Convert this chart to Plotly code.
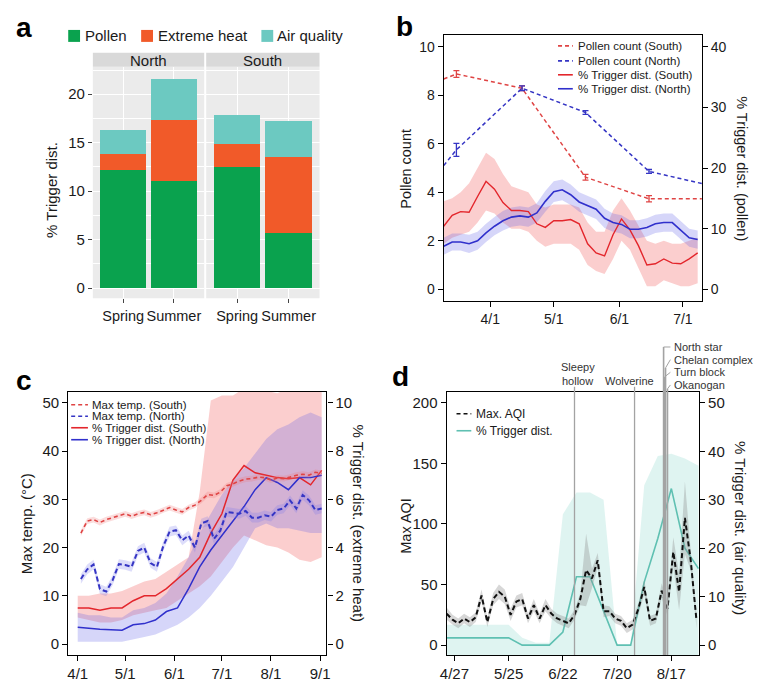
import plotly.graph_objects as go
import pandas as pd

W, H = 760, 674
OFF = 8  # the page body margin shifts the figure by 8 px
FONT = "Liberation Sans, Arial, Helvetica, sans-serif"


def px(x):
    return (x - OFF) / W


def py(y):
    return 1 - (y - OFF) / H


# ---------------- Panel a data ----------------
seasons = ["Spring", "Summer"]
north_pollen = [12.2, 11.1]
north_heat = [1.6, 6.2]
north_air = [2.5, 4.3]
south_pollen = [12.5, 5.7]
south_heat = [2.4, 7.8]
south_air = [3.0, 3.7]
a_legend = ["Pollen", "Extreme heat", "Air quality"]
a_ticks = [0, 5, 10, 15, 20]

# ---------------- Panel b data ----------------
b_dates = pd.date_range("2015-03-10", periods=31, freq="4D")
b_south_trig = [10.4, 12.2, 12.8, 12.7, 15.3, 17.8, 16.5, 14.3, 13.0, 13.0, 12.8, 10.8, 10.2, 11.3, 11.3,
                11.5, 10.8, 7.5, 6.0, 5.5, 9.0, 11.6, 9.8, 7.2, 4.0, 4.2, 5.0, 4.3, 4.2, 5.0, 6.0]
b_south_lo = [7.5, 8.5, 9, 9.5, 11, 13, 12.5, 11, 10, 10, 9.5, 8, 7, 7.5, 7.5,
              7.5, 6.5, 4, 3, 2.5, 5, 8, 6.5, 3.5, 0.5, 0.5, 1.5, 1, 0.5, 0.5, 1]
b_south_hi = [14.5, 15, 16, 17.5, 20, 22.5, 21.5, 19, 17, 16.5, 16, 14, 13.5, 14, 14,
              14, 13.5, 11, 9.5, 9.5, 13, 15, 13, 10.5, 8, 7.5, 8, 7.5, 7.5, 8, 8.5]
b_north_trig = [7.1, 7.8, 7.8, 7.5, 8.0, 9.3, 10.4, 11.3, 11.9, 12.1, 11.9, 12.6, 14.5, 16.1, 16.4,
                15.6, 14.4, 13.8, 13.2, 11.7, 11.0, 10.7, 9.9, 9.9, 10.2, 10.8, 11.0, 11.0, 9.8, 8.5, 8.2]
b_north_err = [1.4, 1.4, 1.4, 1.5, 1.5, 1.5, 1.5, 1.6, 1.6, 1.6, 1.6, 1.6, 1.7, 1.7, 1.7,
               1.7, 1.6, 1.6, 1.6, 1.6, 1.5, 1.5, 1.5, 1.5, 1.5, 1.5, 1.5, 1.5, 1.5, 1.5, 1.5]
pollen_dates = ["2015-03-10", "2015-03-16", "2015-04-16", "2015-05-16", "2015-06-15", "2015-07-10"]
pollen_south = [8.67, 8.88, 8.29, 4.62, 3.73, 3.73]
pollen_north = [5.1, 5.75, 8.29, 7.29, 4.86, 4.36]
pollen_obs_dates = ["2015-03-16", "2015-04-16", "2015-05-16", "2015-06-15"]
pollen_south_obs = [8.88, 8.29, 4.62, 3.73]
pollen_south_err = [0.14, 0.1, 0.12, 0.13]
pollen_north_obs = [5.75, 8.29, 7.29, 4.86]
pollen_north_err = [0.27, 0.1, 0.08, 0.08]
b_tickvals = ["2015-04-01", "2015-05-01", "2015-06-01", "2015-07-01"]
b_ticktext = ["4/1", "5/1", "6/1", "7/1"]
b_legend = ["Pollen count (South)", "Pollen count (North)", "% Trigger dist. (South)", "% Trigger dist. (North)"]

# ---------------- Panel c data ----------------
c_temp_dates = pd.date_range("2015-04-03", periods=39, freq="4D")
temp_south = [23, 25.5, 25.8, 25.2, 25.8, 26.2, 26.6, 27.0, 26.5, 27.0, 27.3, 26.8, 27.2, 27.8, 28.3,
              27.8, 27.4, 28.3, 28.8, 29.8, 31.0, 30.8, 31.5, 32.8, 33.2, 33.8, 34.2, 34.3, 34.6, 34.5,
              34.0, 34.4, 34.3, 34.6, 35.0, 35.2, 35.0, 35.6, 35.4]
temp_north = [13.5, 15.5, 16.5, 11.4, 10.9, 13.2, 16.6, 16.4, 16.0, 19.3, 20.0, 16.8, 16.0, 20.3, 23.3,
              23.6, 21.5, 22.5, 20.0, 25.0, 25.5, 21.8, 23.5, 27.4, 27.2, 27.0, 27.6, 26.2, 26.2, 26.7,
              26.4, 27.8, 28.1, 29.8, 28.1, 30.9, 29.8, 27.8, 28.1]
temp_south_halfwidth = 0.6
temp_north_halfwidth = 1.0
c_trig_dates = pd.date_range("2015-04-01", periods=23, freq="7D")
c_south_trig = [1.5, 1.5, 1.4, 1.5, 1.5, 1.8, 2.0, 2.0, 2.3, 2.7, 3.1, 3.6, 4.6, 5.4, 6.8, 7.4, 7.1, 7.0,
                6.9, 6.85, 6.9, 6.6, 7.2]
c_north_trig = [0.7, 0.65, 0.62, 0.6, 0.58, 0.8, 0.85, 1.0, 1.35, 1.5, 2.3, 3.2, 3.9, 4.5, 5.1, 5.7, 6.4,
                6.9, 6.7, 6.4, 6.9, 6.9, 7.0]
c_south_lo = [1.1, 1.0, 0.9, 0.9, 1.0, 1.2, 1.3, 1.4, 1.5, 1.8, 2.1, 2.4, 2.8, 3.4, 4.0, 4.5, 4.3, 4.1,
              4.0, 3.8, 3.5, 3.4, 3.6]
c_south_hi = [2.0, 2.0, 2.1, 2.1, 2.2, 2.4, 2.6, 2.7, 3.0, 3.3, 3.6, 6.3, 10.1, 10.3, 10.3, 10.6, 10.8,
              10.5, 10.4, 10.6, 10.8, 11.0, 11.0]
c_north_lo = [0.1, 0.1, 0.1, 0.1, 0.1, 0.2, 0.3, 0.4, 0.6, 0.8, 1.1, 1.5, 2.0, 2.6, 3.2, 4.0, 4.8, 5.0,
              4.8, 4.8, 4.7, 4.6, 4.6]
c_north_hi = [1.3, 1.2, 1.2, 1.1, 1.1, 1.4, 1.5, 1.7, 2.1, 2.8, 3.6, 4.6, 5.4, 6.2, 6.8, 7.3, 7.9, 8.5,
              8.9, 9.1, 9.4, 9.6, 9.4]
c_tickvals = ["2015-04-01", "2015-05-01", "2015-06-01", "2015-07-01", "2015-08-01", "2015-09-01"]
c_ticktext = ["4/1", "5/1", "6/1", "7/1", "8/1", "9/1"]
c_legend = ["Max temp. (South)", "Max temp. (North)", "% Trigger dist. (South)", "% Trigger dist. (North)"]

# ---------------- Panel d data ----------------
aqi_dates = pd.date_range("2015-04-23", periods=44, freq="3D")
aqi = [26, 21, 18, 22, 19, 23, 41, 19, 38, 44, 40, 25, 36, 38, 22, 33, 22, 33, 26, 22,
       20, 18, 25, 38, 62, 55, 70, 28, 28, 22, 20, 14, 17, 30, 48, 20, 22, 45, 30, 77,
       44, 105, 70, 20]
aqi_err = [5, 4, 4, 4, 4, 4, 5, 4, 5, 6, 6, 5, 5, 5, 4, 5, 4, 5, 4, 4,
           4, 4, 4, 5, 30, 8, 6, 5, 4, 4, 4, 4, 4, 5, 6, 4, 4, 6, 6, 12,
           15, 30, 8, 6]
d_trig_dates = pd.date_range("2015-04-20", periods=20, freq="7D")
d_trig = [1.5, 1.5, 1.5, 1.5, 1.5, 1.5, 0, 0, 0, 2.7, 14.1, 14.1, 7.0, 0, 0, 13.0, 22.0, 32.3, 20.0, 15.8]
d_trig_hi = [4.2, 4.2, 4.2, 4.2, 4.2, 4.2, 1.5, 0.5, 0.5, 27, 31.5, 31.5, 30, 0, 0, 33, 39, 39.5, 38.5, 37]
d_trig_lo = [-3, -3, -3, -3, -3, -3, -3, -3, -3, -3, -3, -3, -3, -3, -3, -3, -3, -3, -3, -3]
d_tickvals = ["2015-04-27", "2015-05-25", "2015-06-22", "2015-07-20", "2015-08-17"]
d_ticktext = ["4/27", "5/25", "6/22", "7/20", "8/17"]
d_legend = ["Max. AQI", "% Trigger dist."]
fire_names = ["Sleepy hollow", "Wolverine", "North star", "Chelan complex", "Turn block", "Okanogan"]
fire_dates = ["2015-06-28", "2015-07-29", "2015-08-13", "2015-08-14", "2015-08-13 12:00", "2015-08-15"]

# ---------------- colours ----------------
GREEN = "#0aa24e"
ORANGE = "#f15a29"
TEAL_A = "#6cc9c1"
RED = "#e3262c"
RED_D = "#df4444"
BLUE = "#3030cc"
BLUE_D = "#3535c4"
PINK_BAND = "rgba(240,80,80,0.28)"
BLUE_BAND = "rgba(90,90,230,0.25)"
TEAL = "#5fc0b2"
TEAL_BAND = "rgba(110,205,190,0.22)"
GRAY_BAND = "rgba(140,140,140,0.35)"
TXT = "#1a1a1a"


def band(dates, lo, hi):
    d = list(pd.to_datetime(dates))
    return d + d[::-1], list(hi) + list(lo)[::-1]


fig = go.Figure()

# ---- a: stacked bars
for xa, ya, vals in [("x", "y", (north_pollen, north_heat, north_air)),
                     ("x2", "y2", (south_pollen, south_heat, south_air))]:
    for v, c in zip(vals, (GREEN, ORANGE, TEAL_A)):
        fig.add_trace(go.Bar(x=seasons, y=v, width=0.9, marker=dict(color=c, line=dict(width=0)),
                             xaxis=xa, yaxis=ya, showlegend=False))

# ---- b
bx, by = band(b_dates, b_south_lo, b_south_hi)
fig.add_trace(go.Scatter(x=bx, y=by, fill="toself", fillcolor=PINK_BAND, line=dict(width=0),
                         mode="lines", xaxis="x3", yaxis="y3", showlegend=False, hoverinfo="skip"))
nlo = [v - e for v, e in zip(b_north_trig, b_north_err)]
nhi = [v + e for v, e in zip(b_north_trig, b_north_err)]
bx, by = band(b_dates, nlo, nhi)
fig.add_trace(go.Scatter(x=bx, y=by, fill="toself", fillcolor=BLUE_BAND, line=dict(width=0),
                         mode="lines", xaxis="x3", yaxis="y3", showlegend=False, hoverinfo="skip"))
fig.add_trace(go.Scatter(x=b_dates, y=b_south_trig, mode="lines", line=dict(color=RED, width=1.4),
                         xaxis="x3", yaxis="y3", showlegend=False))
fig.add_trace(go.Scatter(x=b_dates, y=b_north_trig, mode="lines", line=dict(color=BLUE, width=1.6),
                         xaxis="x3", yaxis="y3", showlegend=False))
fig.add_trace(go.Scatter(x=pollen_dates, y=pollen_south, mode="lines",
                         line=dict(color=RED_D, width=1.5, dash="4px,3px"),
                         xaxis="x3", yaxis="y4", showlegend=False))
fig.add_trace(go.Scatter(x=pollen_dates, y=pollen_north, mode="lines",
                         line=dict(color=BLUE_D, width=1.5, dash="4px,3px"),
                         xaxis="x3", yaxis="y4", showlegend=False))
fig.add_trace(go.Scatter(x=pollen_obs_dates, y=pollen_south_obs, mode="markers",
                         marker=dict(size=1, color=RED_D),
                         error_y=dict(type="data", array=pollen_south_err, width=3, thickness=1.3, color=RED_D),
                         xaxis="x3", yaxis="y4", showlegend=False))
fig.add_trace(go.Scatter(x=pollen_obs_dates, y=pollen_north_obs, mode="markers",
                         marker=dict(size=1, color=BLUE_D),
                         error_y=dict(type="data", array=pollen_north_err, width=3, thickness=1.3, color=BLUE_D),
                         xaxis="x3", yaxis="y4", showlegend=False))

# ---- c
bx, by = band(c_trig_dates, c_south_lo, c_south_hi)
fig.add_trace(go.Scatter(x=bx, y=by, fill="toself", fillcolor=PINK_BAND, line=dict(width=0),
                         mode="lines", xaxis="x5", yaxis="y5", showlegend=False, hoverinfo="skip"))
bx, by = band(c_trig_dates, c_north_lo, c_north_hi)
fig.add_trace(go.Scatter(x=bx, y=by, fill="toself", fillcolor=BLUE_BAND, line=dict(width=0),
                         mode="lines", xaxis="x5", yaxis="y5", showlegend=False, hoverinfo="skip"))
fig.add_trace(go.Scatter(x=c_trig_dates, y=c_south_trig, mode="lines", line=dict(color=RED, width=1.5),
                         xaxis="x5", yaxis="y5", showlegend=False))
fig.add_trace(go.Scatter(x=c_trig_dates, y=c_north_trig, mode="lines", line=dict(color=BLUE, width=1.5),
                         xaxis="x5", yaxis="y5", showlegend=False))
bx, by = band(c_temp_dates, [v - temp_south_halfwidth for v in temp_south],
              [v + temp_south_halfwidth for v in temp_south])
fig.add_trace(go.Scatter(x=bx, y=by, fill="toself", fillcolor="rgba(240,120,120,0.25)", line=dict(width=0),
                         mode="lines", xaxis="x5", yaxis="y6", showlegend=False, hoverinfo="skip"))
bx, by = band(c_temp_dates, [v - temp_north_halfwidth for v in temp_north],
              [v + temp_north_halfwidth for v in temp_north])
fig.add_trace(go.Scatter(x=bx, y=by, fill="toself", fillcolor="rgba(120,120,235,0.25)", line=dict(width=0),
                         mode="lines", xaxis="x5", yaxis="y6", showlegend=False, hoverinfo="skip"))
fig.add_trace(go.Scatter(x=c_temp_dates, y=temp_south, mode="lines",
                         line=dict(color=RED_D, width=1.6, dash="4px,3px"),
                         xaxis="x5", yaxis="y6", showlegend=False))
fig.add_trace(go.Scatter(x=c_temp_dates, y=temp_north, mode="lines",
                         line=dict(color=BLUE_D, width=2, dash="5px,3px"),
                         xaxis="x5", yaxis="y6", showlegend=False))

# ---- d
bx, by = band(d_trig_dates, d_trig_lo, d_trig_hi)
fig.add_trace(go.Scatter(x=bx, y=by, fill="toself", fillcolor=TEAL_BAND, line=dict(width=0),
                         mode="lines", xaxis="x7", yaxis="y7", showlegend=False, hoverinfo="skip"))
fig.add_trace(go.Scatter(x=d_trig_dates, y=d_trig, mode="lines", line=dict(color=TEAL, width=1.6),
                         xaxis="x7", yaxis="y7", showlegend=False))
bx, by = band(aqi_dates, [v - e for v, e in zip(aqi, aqi_err)], [v + e for v, e in zip(aqi, aqi_err)])
fig.add_trace(go.Scatter(x=bx, y=by, fill="toself", fillcolor=GRAY_BAND, line=dict(width=0),
                         mode="lines", xaxis="x7", yaxis="y8", showlegend=False, hoverinfo="skip"))
fig.add_trace(go.Scatter(x=aqi_dates, y=aqi, mode="lines",
                         line=dict(color="#111111", width=2, dash="5px,3px"),
                         xaxis="x7", yaxis="y8", showlegend=False))

# ---------------- axes ----------------
tf = dict(family=FONT, size=15, color=TXT)
tfa = dict(family=FONT, size=14.5, color=TXT)
tf14 = dict(family=FONT, size=14, color=TXT)
box = dict(showline=True, linecolor="black", linewidth=1.2, ticks="outside", ticklen=5,
           tickcolor="black", tickwidth=1.1, showgrid=False, zeroline=False)

a_unit = 9.725
a_range = [-(299 - 289) / a_unit, (289 - 67) / a_unit]
a_minor = dict(tickvals=[2.5, 7.5, 12.5, 17.5, 22.5], showgrid=True, gridcolor="white", gridwidth=0.5)
ax_a = dict(type="category", range=[-0.6, 1.6], showgrid=True, gridcolor="white", gridwidth=1,
            ticks="outside", ticklen=4, tickcolor="#444", tickfont=tfa, tickangle=0,
            showline=False, zeroline=False)

fig.update_layout(
    xaxis=dict(domain=[px(87), px(200)], anchor="y", **ax_a),
    yaxis=dict(domain=[py(299), py(67)], anchor="x", range=a_range, tickvals=a_ticks, showgrid=True,
               gridcolor="white", gridwidth=1.1, minor=a_minor, ticks="outside", ticklen=4,
               tickcolor="#444", tickfont=tf, zeroline=False, showline=False),
    xaxis2=dict(domain=[px(202), px(317)], anchor="y2", **ax_a),
    yaxis2=dict(domain=[py(299), py(67)], anchor="x2", range=a_range, tickvals=a_ticks, showgrid=True,
                gridcolor="white", gridwidth=1.1, minor=a_minor,
                showticklabels=False, ticks="", zeroline=False),
    xaxis3=dict(domain=[px(443), px(705)], anchor="y3", type="date", range=["2015-03-10", "2015-07-10"],
                tickvals=b_tickvals, ticktext=b_ticktext, tickfont=tf14, mirror=True, **box),
    yaxis3=dict(domain=[py(302), py(35)], anchor="x3", side="right", range=[-1.96, 41.96],
                tickvals=[0, 10, 20, 30, 40], tickfont=tf14, **box),
    yaxis4=dict(overlaying="y3", anchor="x3", side="left", range=[-0.49, 10.49],
                tickvals=[0, 2, 4, 6, 8, 10], tickfont=tf14, **box),
    xaxis5=dict(domain=[px(62), px(324)], anchor="y5", type="date", range=["2015-03-26", "2015-09-05"],
                tickvals=c_tickvals, ticktext=c_ticktext, tickfont=tf, mirror=True, **box),
    yaxis5=dict(domain=[py(657), py(393)], anchor="x5", side="right", range=[-0.454, 10.454],
                tickvals=[0, 2, 4, 6, 8, 10], tickfont=tf, **box),
    yaxis6=dict(overlaying="y5", anchor="x5", side="left", range=[-2.27, 52.27],
                tickvals=[0, 10, 20, 30, 40, 50], tickfont=tf, **box),
    xaxis7=dict(domain=[px(446), px(702)], anchor="y7", type="date", range=["2015-04-23", "2015-08-31 06:00"],
                tickvals=d_tickvals, ticktext=d_ticktext, tickfont=tf, mirror=True, **box),
    yaxis7=dict(domain=[py(657), py(393)], anchor="x7", side="right", range=[-2.06, 52.26],
                tickvals=[0, 10, 20, 30, 40, 50], tickfont=tf, **box),
    yaxis8=dict(overlaying="y7", anchor="x7", side="left", range=[-8.2, 209.0],
                tickvals=[0, 50, 100, 150, 200], tickfont=tf, **box),
)

shapes = []
annotations = []

# panel a backgrounds and strips
for x0, x1, name in [(87, 200, "North"), (202, 317, "South")]:
    shapes.append(dict(type="rect", xref="paper", yref="paper", x0=px(x0), x1=px(x1), y0=py(299), y1=py(67),
                       fillcolor="#ebebeb", line=dict(width=0), layer="below"))
    shapes.append(dict(type="rect", xref="paper", yref="paper", x0=px(x0), x1=px(x1), y0=py(67), y1=py(53),
                       fillcolor="#d9d9d9", line=dict(width=0), layer="below"))
    annotations.append(dict(text=name, x=px((x0 + x1) / 2), y=py(60.5), xref="paper", yref="paper",
                            showarrow=False, xanchor="center", yanchor="middle", font=tf))

# panel a legend
for (sx, tx), name, c in zip([(62, 77), (136, 151), (258, 272)], a_legend, (GREEN, ORANGE, TEAL_A)):
    shapes.append(dict(type="rect", xref="paper", yref="paper", x0=px(sx), x1=px(sx + 12), y0=py(42), y1=py(30),
                       fillcolor=c, line=dict(width=0)))
    annotations.append(dict(text=name, x=px(tx), y=py(36), xref="paper", yref="paper", showarrow=False,
                            xanchor="left", yanchor="middle", font=tf))

# panel letters
for letter, x, y in [("a", 17, 28), ("b", 403, 27), ("c", 17, 382), ("d", 399, 378)]:
    annotations.append(dict(text="<b>%s</b>" % letter, x=px(x), y=py(y), xref="paper", yref="paper",
                            showarrow=False, xanchor="center", yanchor="middle",
                            font=dict(family=FONT, size=28, color="black")))

# axis titles (text, x, y, size, angle)
for text, x, y, size, ang in [("% Trigger dist.", 45, 190, 15, -90),
                              ("Pollen count", 404, 169, 14.5, -90),
                              ("% Trigger dist. (pollen)", 746, 169, 14.5, 90),
                              ("Max temp. (°C)", 20, 525, 15, -90),
                              ("% Trigger dist. (extreme heat)", 357, 525, 15, 90),
                              ("Max AQI", 405, 527, 14.5, -90),
                              ("% Trigger dist. (air quality)", 744, 530, 15, 90)]:
    annotations.append(dict(text=text, x=px(x), y=py(y), xref="paper", yref="paper", showarrow=False,
                            textangle=ang, xanchor="center", yanchor="middle",
                            font=dict(family=FONT, size=size, color=TXT)))


# manual legends
def legend(items, colors, dashes, x0, x1, tx, ys, size):
    for name, c, d, y in zip(items, colors, dashes, ys):
        shapes.append(dict(type="line", xref="paper", yref="paper", x0=px(x0), x1=px(x1), y0=py(y), y1=py(y),
                           line=dict(color=c, width=1.6, dash=d)))
        annotations.append(dict(text=name, x=px(tx), y=py(y), xref="paper", yref="paper", showarrow=False,
                                xanchor="left", yanchor="middle", borderpad=0,
                                font=dict(family=FONT, size=size, color=TXT)))


legend(b_legend, [RED_D, BLUE_D, RED, BLUE], ["4px,3px", "4px,3px", "solid", "solid"],
       559, 574, 578, [46, 61, 75, 89], 11.5)
legend(c_legend, [RED_D, BLUE_D, RED, BLUE], ["4px,3px", "4px,3px", "solid", "solid"],
       65, 82, 85, [406, 417.5, 429, 441], 11.5)
legend(d_legend, ["#111111", TEAL], ["4px,3px", "solid"], 456, 471, 475, [415, 432], 12)

# fire events in d
fire_tops = [388, 388, 348, 369, 378, 390]
for name, date, top in zip(fire_names, fire_dates, fire_tops):
    wide = name not in ("Sleepy hollow", "Wolverine")
    shapes.append(dict(type="line", xref="x7", yref="paper", x0=date, x1=date, y0=py(657), y1=py(top),
                       line=dict(color="#a3a3a3", width=1.6 if wide else 1.3), layer="above"))
label_font = dict(family=FONT, size=11, color="#333333")
label_common = dict(xref="paper", yref="paper", showarrow=False, yanchor="middle", borderpad=0,
                    font=label_font)
annotations.append(dict(text="Sleepy", x=px(579), y=py(368.5), xanchor="center", **label_common))
annotations.append(dict(text="hollow", x=px(579), y=py(382), xanchor="center", **label_common))
annotations.append(dict(text="Wolverine", x=px(632), y=py(382), xanchor="center", **label_common))
label_ys = [348, 360.7, 373.4, 386.1]
for name, y in zip(fire_names[2:], label_ys):
    annotations.append(dict(text=name, x=px(676), y=py(y), xanchor="left", **label_common))
for date, top, y in zip(fire_dates[2:], fire_tops[2:], label_ys):
    shapes.append(dict(type="line", xref="x7", yref="paper", x0=date, x1="2015-08-16 12:00",
                       y0=py(top), y1=py(y), line=dict(color="#a3a3a3", width=1), layer="above"))

fig.update_layout(
    width=W, height=H, margin=dict(l=0, r=0, t=0, b=0),
    paper_bgcolor="white", plot_bgcolor="rgba(0,0,0,0)",
    barmode="stack", bargap=0.1, showlegend=False,
    font=dict(family=FONT, color=TXT),
    shapes=shapes, annotations=annotations,
)

fig.write_html("out.html")
